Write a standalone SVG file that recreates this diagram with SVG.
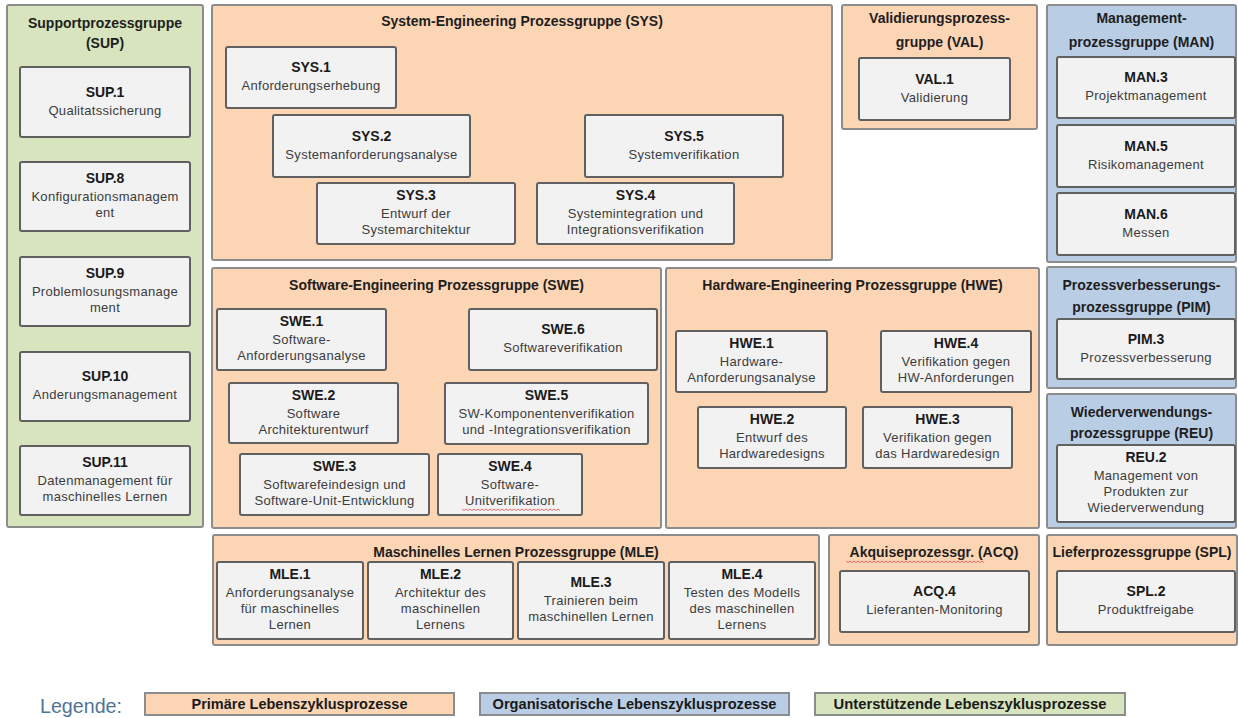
<svg xmlns="http://www.w3.org/2000/svg" width="1238" height="718" viewBox="0 0 1238 718">
<style>
  .grp{stroke:#8c8c8c;stroke-width:2}
  .p{fill:#fcd5b5}
  .o{fill:#b9cde5}
  .s{fill:#d7e4bd}
  .node rect{fill:#f2f2f2;stroke:#606060;stroke-width:2}
  text{font-family:"Liberation Sans",Arial,sans-serif;text-anchor:middle}
  .gt{font-size:14px;font-weight:bold;fill:#1e1e1e}
  .id{font-size:14px;font-weight:bold;fill:#1a1a1a}
  .ds{font-size:13px;fill:#3c3c3c;letter-spacing:0.3px}
  .lg{font-size:15px;font-weight:bold;fill:#1a1a1a}
  .sq{stroke:#e05050;stroke-width:1;fill:none;opacity:0.8}
</style>
<rect width="1238" height="718" fill="#ffffff"/>

<g id="group-SUP"><rect class="grp s" x="7" y="5" width="196" height="522" rx="2"/>
  <text class="gt" x="105" y="28">Supportprozessgruppe</text><text class="gt" x="105" y="48">(SUP)</text></g>
<g id="group-SYS"><rect class="grp p" x="212" y="5" width="620" height="255" rx="2"/>
  <text class="gt" x="522" y="26">System-Engineering Prozessgruppe (SYS)</text></g>
<g id="group-VAL"><rect class="grp p" x="842" y="5" width="195" height="124" rx="2"/>
  <text class="gt" x="939.5" y="23">Validierungsprozess-</text><text class="gt" x="939.5" y="47">gruppe (VAL)</text></g>
<g id="group-MAN"><rect class="grp o" x="1047" y="5" width="189" height="257" rx="2"/>
  <text class="gt" x="1141.5" y="23">Management-</text><text class="gt" x="1141.5" y="47">prozessgruppe (MAN)</text></g>
<g id="group-SWE"><rect class="grp p" x="212" y="268" width="449" height="260" rx="2"/>
  <text class="gt" x="436.5" y="290">Software-Engineering Prozessgruppe (SWE)</text></g>
<g id="group-HWE"><rect class="grp p" x="666" y="268" width="373" height="260" rx="2"/>
  <text class="gt" x="852.5" y="290">Hardware-Engineering Prozessgruppe (HWE)</text></g>
<g id="group-PIM"><rect class="grp o" x="1047" y="267" width="189" height="121" rx="2"/>
  <text class="gt" x="1141.5" y="290">Prozessverbesserungs-</text><text class="gt" x="1141.5" y="312">prozessgruppe (PIM)</text></g>
<g id="group-REU"><rect class="grp o" x="1047" y="394" width="189" height="134" rx="2"/>
  <text class="gt" x="1141.5" y="417">Wiederverwendungs-</text><text class="gt" x="1141.5" y="438">prozessgruppe (REU)</text></g>
<g id="group-MLE"><rect class="grp p" x="213" y="535" width="606" height="110" rx="2"/>
  <text class="gt" x="516" y="557">Maschinelles Lernen Prozessgruppe (MLE)</text></g>
<g id="group-ACQ"><rect class="grp p" x="829" y="535" width="210" height="110" rx="2"/>
  <text class="gt" x="934" y="557">Akquiseprozessgr. (ACQ)</text>
  <path class="sq" d="M846 561 l2 1.5 l2 -1.5 l2 1.5 l2 -1.5 l2 1.5 l2 -1.5 l2 1.5 l2 -1.5 l2 1.5 l2 -1.5 l2 1.5 l2 -1.5 l2 1.5 l2 -1.5 l2 1.5 l2 -1.5 l2 1.5 l2 -1.5 l2 1.5 l2 -1.5 l2 1.5 l2 -1.5 l2 1.5 l2 -1.5 l2 1.5 l2 -1.5 l2 1.5 l2 -1.5 l2 1.5 l2 -1.5 l2 1.5 l2 -1.5 l2 1.5 l2 -1.5 l2 1.5 l2 -1.5 l2 1.5 l2 -1.5 l2 1.5 l2 -1.5 l2 1.5 l2 -1.5 l2 1.5 l2 -1.5 l2 1.5 l2 -1.5 l2 1.5 l2 -1.5 l2 1.5 l2 -1.5 l2 1.5 l2 -1.5 l2 1.5 l2 -1.5 l2 1.5 l2 -1.5 l2 1.5 l2 -1.5 l2 1.5 l2 -1.5 l2 1.5 l2 -1.5 l2 1.5 l2 -1.5 l2 1.5 l2 -1.5 l2 1.5 l2 -1.5 l2 1.5"/></g>
<g id="group-SPL"><rect class="grp p" x="1047" y="535" width="190" height="110" rx="2"/>
  <text class="gt" x="1142" y="557">Lieferprozessgruppe (SPL)</text></g>

<g id="connectors"></g>

<g id="SUP.1" class="node"><rect x="20" y="67" width="170" height="70" rx="2"/>
  <text class="id" x="105" y="96.5">SUP.1</text><text class="ds" x="105" y="114.5">Qualitatssicherung</text></g>
<g id="SUP.8" class="node"><rect x="20" y="162" width="170" height="69" rx="2"/>
  <text class="id" x="105" y="183">SUP.8</text><text class="ds" x="105" y="201">Konfigurationsmanagem</text><text class="ds" x="105" y="217">ent</text></g>
<g id="SUP.9" class="node"><rect x="20" y="257" width="170" height="69" rx="2"/>
  <text class="id" x="105" y="278">SUP.9</text><text class="ds" x="105" y="296">Problemlosungsmanage</text><text class="ds" x="105" y="312">ment</text></g>
<g id="SUP.10" class="node"><rect x="20" y="352" width="170" height="69" rx="2"/>
  <text class="id" x="105" y="381">SUP.10</text><text class="ds" x="105" y="399">Anderungsmanagement</text></g>
<g id="SUP.11" class="node"><rect x="20" y="446" width="170" height="69" rx="2"/>
  <text class="id" x="105" y="467">SUP.11</text><text class="ds" x="105" y="485">Datenmanagement für</text><text class="ds" x="105" y="501">maschinelles Lernen</text></g>

<g id="SYS.1" class="node"><rect x="226" y="47" width="170" height="61" rx="2"/>
  <text class="id" x="311" y="72">SYS.1</text><text class="ds" x="311" y="90">Anforderungserhebung</text></g>
<g id="SYS.2" class="node"><rect x="273" y="115" width="197" height="62" rx="2"/>
  <text class="id" x="371.5" y="140.5">SYS.2</text><text class="ds" x="371.5" y="158.5">Systemanforderungsanalyse</text></g>
<g id="SYS.3" class="node"><rect x="317" y="183" width="198" height="61" rx="2"/>
  <text class="id" x="416" y="200">SYS.3</text><text class="ds" x="416" y="218">Entwurf der</text><text class="ds" x="416" y="234">Systemarchitektur</text></g>
<g id="SYS.4" class="node"><rect x="537" y="183" width="197" height="61" rx="2"/>
  <text class="id" x="635.5" y="200">SYS.4</text><text class="ds" x="635.5" y="218">Systemintegration und</text><text class="ds" x="635.5" y="234">Integrationsverifikation</text></g>
<g id="SYS.5" class="node"><rect x="585" y="115" width="198" height="62" rx="2"/>
  <text class="id" x="684" y="140.5">SYS.5</text><text class="ds" x="684" y="158.5">Systemverifikation</text></g>

<g id="VAL.1" class="node"><rect x="859" y="58" width="151" height="62" rx="2"/>
  <text class="id" x="934.5" y="83.5">VAL.1</text><text class="ds" x="934.5" y="101.5">Validierung</text></g>

<g id="MAN.3" class="node"><rect x="1057" y="57" width="178" height="61" rx="2"/>
  <text class="id" x="1146" y="82">MAN.3</text><text class="ds" x="1146" y="100">Projektmanagement</text></g>
<g id="MAN.5" class="node"><rect x="1057" y="125" width="178" height="62" rx="2"/>
  <text class="id" x="1146" y="150.5">MAN.5</text><text class="ds" x="1146" y="168.5">Risikomanagement</text></g>
<g id="MAN.6" class="node"><rect x="1057" y="193" width="178" height="62" rx="2"/>
  <text class="id" x="1146" y="218.5">MAN.6</text><text class="ds" x="1146" y="236.5">Messen</text></g>

<g id="SWE.1" class="node"><rect x="217" y="309" width="169" height="61" rx="2"/>
  <text class="id" x="301.5" y="326">SWE.1</text><text class="ds" x="301.5" y="344">Software-</text><text class="ds" x="301.5" y="360">Anforderungsanalyse</text></g>
<g id="SWE.2" class="node"><rect x="229" y="383" width="169" height="60" rx="2"/>
  <text class="id" x="313.5" y="399.5">SWE.2</text><text class="ds" x="313.5" y="417.5">Software</text><text class="ds" x="313.5" y="433.5">Architekturentwurf</text></g>
<g id="SWE.3" class="node"><rect x="240" y="454" width="189" height="61" rx="2"/>
  <text class="id" x="334.5" y="471">SWE.3</text><text class="ds" x="334.5" y="489">Softwarefeindesign und</text><text class="ds" x="334.5" y="505">Software-Unit-Entwicklung</text></g>
<g id="SWE.4" class="node"><rect x="438" y="454" width="144" height="61" rx="2"/>
  <text class="id" x="510" y="471">SWE.4</text><text class="ds" x="510" y="489">Software-</text><text class="ds" x="510" y="505">Unitverifikation</text>
  <path class="sq" d="M462 509 l2 1.5 l2 -1.5 l2 1.5 l2 -1.5 l2 1.5 l2 -1.5 l2 1.5 l2 -1.5 l2 1.5 l2 -1.5 l2 1.5 l2 -1.5 l2 1.5 l2 -1.5 l2 1.5 l2 -1.5 l2 1.5 l2 -1.5 l2 1.5 l2 -1.5 l2 1.5 l2 -1.5 l2 1.5 l2 -1.5 l2 1.5 l2 -1.5 l2 1.5 l2 -1.5 l2 1.5 l2 -1.5 l2 1.5 l2 -1.5 l2 1.5 l2 -1.5 l2 1.5 l2 -1.5 l2 1.5 l2 -1.5 l2 1.5 l2 -1.5 l2 1.5 l2 -1.5 l2 1.5 l2 -1.5 l2 1.5 l2 -1.5 l2 1.5 l2 -1.5 l2 1.5"/></g>
<g id="SWE.5" class="node"><rect x="445" y="383" width="203" height="61" rx="2"/>
  <text class="id" x="546.5" y="400">SWE.5</text><text class="ds" x="546.5" y="418">SW-Komponentenverifikation</text><text class="ds" x="546.5" y="434">und -Integrationsverifikation</text></g>
<g id="SWE.6" class="node"><rect x="469" y="309" width="188" height="61" rx="2"/>
  <text class="id" x="563" y="334">SWE.6</text><text class="ds" x="563" y="352">Softwareverifikation</text></g>

<g id="HWE.1" class="node"><rect x="676" y="331" width="151" height="61" rx="2"/>
  <text class="id" x="751.5" y="348">HWE.1</text><text class="ds" x="751.5" y="366">Hardware-</text><text class="ds" x="751.5" y="382">Anforderungsanalyse</text></g>
<g id="HWE.2" class="node"><rect x="698" y="407" width="148" height="61" rx="2"/>
  <text class="id" x="772" y="424">HWE.2</text><text class="ds" x="772" y="442">Entwurf des</text><text class="ds" x="772" y="458">Hardwaredesigns</text></g>
<g id="HWE.3" class="node"><rect x="863" y="407" width="149" height="61" rx="2"/>
  <text class="id" x="937.5" y="424">HWE.3</text><text class="ds" x="937.5" y="442">Verifikation gegen</text><text class="ds" x="937.5" y="458">das Hardwaredesign</text></g>
<g id="HWE.4" class="node"><rect x="881" y="331" width="150" height="61" rx="2"/>
  <text class="id" x="956" y="348">HWE.4</text><text class="ds" x="956" y="366">Verifikation gegen</text><text class="ds" x="956" y="382">HW-Anforderungen</text></g>

<g id="PIM.3" class="node"><rect x="1057" y="319" width="178" height="60" rx="2"/>
  <text class="id" x="1146" y="343.5">PIM.3</text><text class="ds" x="1146" y="361.5">Prozessverbesserung</text></g>
<g id="REU.2" class="node"><rect x="1057" y="445" width="178" height="77" rx="2"/>
  <text class="id" x="1146" y="462">REU.2</text><text class="ds" x="1146" y="480">Management von</text><text class="ds" x="1146" y="496">Produkten zur</text><text class="ds" x="1146" y="512">Wiederverwendung</text></g>

<g id="MLE.1" class="node"><rect x="217" y="562" width="146" height="77" rx="2"/>
  <text class="id" x="290" y="579">MLE.1</text><text class="ds" x="290" y="597">Anforderungsanalyse</text><text class="ds" x="290" y="613">für maschinelles</text><text class="ds" x="290" y="629">Lernen</text></g>
<g id="MLE.2" class="node"><rect x="368" y="562" width="145" height="77" rx="2"/>
  <text class="id" x="440.5" y="579">MLE.2</text><text class="ds" x="440.5" y="597">Architektur des</text><text class="ds" x="440.5" y="613">maschinellen</text><text class="ds" x="440.5" y="629">Lernens</text></g>
<g id="MLE.3" class="node"><rect x="518" y="562" width="146" height="77" rx="2"/>
  <text class="id" x="591" y="587">MLE.3</text><text class="ds" x="591" y="605">Trainieren beim</text><text class="ds" x="591" y="621">maschinellen Lernen</text></g>
<g id="MLE.4" class="node"><rect x="669" y="562" width="146" height="77" rx="2"/>
  <text class="id" x="742" y="579">MLE.4</text><text class="ds" x="742" y="597">Testen des Modells</text><text class="ds" x="742" y="613">des maschinellen</text><text class="ds" x="742" y="629">Lernens</text></g>

<g id="ACQ.4" class="node"><rect x="840" y="571" width="189" height="61" rx="2"/>
  <text class="id" x="934.5" y="596">ACQ.4</text><text class="ds" x="934.5" y="614">Lieferanten-Monitoring</text></g>
<g id="SPL.2" class="node"><rect x="1057" y="571" width="178" height="61" rx="2"/>
  <text class="id" x="1146" y="596">SPL.2</text><text class="ds" x="1146" y="614">Produktfreigabe</text></g>

<g id="legend">
  <text x="40" y="713" style="text-anchor:start;font-size:20px;fill:#4f7497" textLength="82" lengthAdjust="spacingAndGlyphs">Legende:</text>
  <rect class="grp p" x="145" y="693" width="309" height="22"/>
  <text class="lg" x="299.5" y="709" textLength="216" lengthAdjust="spacingAndGlyphs">Primäre Lebenszyklusprozesse</text>
  <rect class="grp o" x="480" y="693" width="309" height="22"/>
  <text class="lg" x="634.5" y="709" textLength="284" lengthAdjust="spacingAndGlyphs">Organisatorische Lebenszyklusprozesse</text>
  <rect class="grp s" x="815" y="693" width="310" height="22"/>
  <text class="lg" x="970" y="709" textLength="273" lengthAdjust="spacingAndGlyphs">Unterstützende Lebenszyklusprozesse</text>
</g>
</svg>
